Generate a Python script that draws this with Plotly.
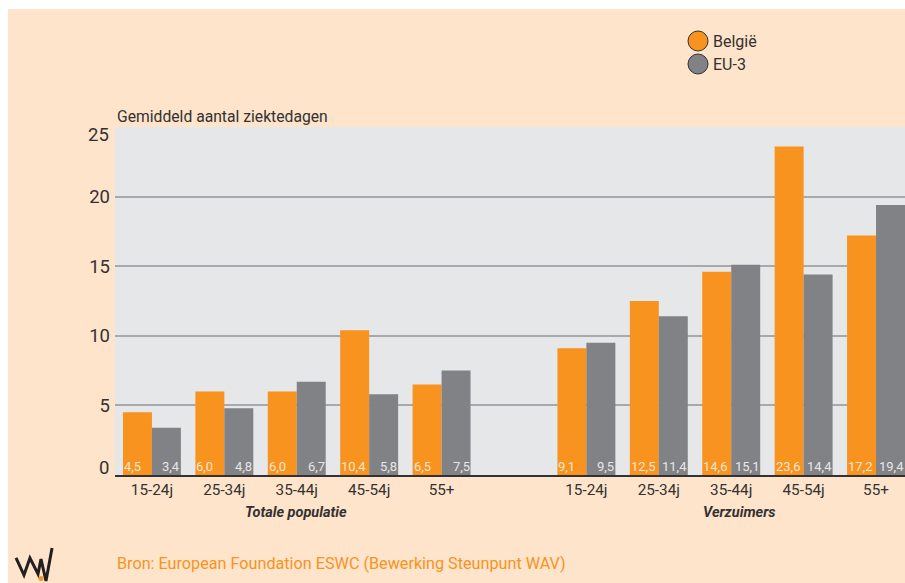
import plotly.graph_objects as go

ages = ["15-24j", "25-34j", "35-44j", "45-54j", "55+"]
belgie_totaal = [4.5, 6.0, 6.0, 10.4, 6.5]
eu3_totaal = [3.4, 4.8, 6.7, 5.8, 7.5]
belgie_verzuim = [9.1, 12.5, 14.6, 23.6, 17.2]
eu3_verzuim = [9.5, 11.4, 15.1, 14.4, 19.4]
y_ticks = [5, 10, 15, 20]
y_end_ticks = [0, 25]
legend_names = ["België", "EU-3"]

ORANGE = "#f7931e"
GREY = "#808285"
PEACH = "#fee4ca"
PLOT = "#e6e7e8"
INK = "#333132"
FONT = "Roboto, Liberation Sans, sans-serif"

W, H = 905, 583
def px(x): return x / W
def py(y): return 1 - y / H

positions = [0, 1, 2, 3, 4, 6, 7, 8, 9, 10]
labels = ages + ages
belgie = belgie_totaal + belgie_verzuim
eu3 = eu3_totaal + eu3_verzuim

fig = go.Figure()
fig.add_bar(x=positions, y=belgie, name="België", marker=dict(color=ORANGE, line_width=0), showlegend=False)
fig.add_bar(x=positions, y=eu3, name="EU-3", marker=dict(color=GREY, line_width=0), showlegend=False)

annotations = []
for p, v, g in zip(positions, belgie, eu3):
    annotations.append(dict(x=p - 0.4, y=0, xref="x", yref="y", xanchor="left", yanchor="bottom",
                            text=f"{v:.1f}".replace(".", ","), showarrow=False, borderpad=0,
                            font=dict(family=FONT, size=13, color="#fbe6d0")))
    annotations.append(dict(x=p + 0.4, y=0, xref="x", yref="y", xanchor="right", yanchor="bottom",
                            text=f"{g:.1f}".replace(".", ","), showarrow=False, borderpad=0,
                            font=dict(family=FONT, size=13, color="#e6e7e8")))

# The end ticks sit just inside the axis span in the reference (positive yshift = up).
for tick, shift in zip(y_end_ticks, [7, -8]):
    annotations.append(dict(x=px(111), xref="paper", y=tick, yref="y", xanchor="right", yanchor="middle",
                            yshift=shift, text=str(tick), showarrow=False,
                            font=dict(family=FONT, size=18.5, color=INK)))

def note(x, y, text, size, color=INK, anchor="left"):
    return dict(x=px(x), y=py(y), xref="paper", yref="paper", xanchor=anchor, yanchor="middle",
                text=text, showarrow=False, font=dict(family=FONT, size=size, color=color))

annotations += [
    note(115, 116, "Gemiddeld aantal ziektedagen", 15.7),
    note(296, 512, "<b><i>Totale populatie</i></b>", 14.5, anchor="center"),
    note(739, 512, "<b><i>Verzuimers</i></b>", 14.5, anchor="center"),
    note(115, 563, "Bron: European Foundation ESWC (Bewerking Steunpunt WAV)", 16.2, ORANGE),
    note(711, 41, legend_names[0], 16),
    note(711, 64, legend_names[1], 16),
]

logo = [(16, 558), (24, 575), (30, 558), (38, 574), (41, 559), (46, 581), (52, 548)]
logo_path = "M" + " L".join(f"{px(x):.4f},{py(y):.4f}" for x, y in logo)
shapes = [
    dict(type="rect", xref="paper", yref="paper", x0=0, x1=px(8), y0=0, y1=1,
         fillcolor="white", line_width=0),
    dict(type="rect", xref="paper", yref="paper", x0=0, x1=1, y0=py(9), y1=1,
         fillcolor="white", line_width=0),
    dict(type="path", xref="paper", yref="paper", path=logo_path,
         line=dict(color="#231f20", width=3)),
    dict(type="circle", xref="paper", yref="paper", x0=px(38.5), x1=px(43.5), y0=py(581), y1=py(576),
         fillcolor=ORANGE, line_width=0),
]
for cy, col in zip([41, 64], [ORANGE, GREY]):
    shapes.append(dict(type="circle", xref="paper", yref="paper", x0=px(688), x1=px(708),
                       y0=py(cy + 10), y1=py(cy - 10), fillcolor=col,
                       line=dict(color=INK, width=1)))

fig.update_layout(
    width=W, height=H, margin=dict(l=0, r=0, t=0, b=0),
    paper_bgcolor=PEACH, plot_bgcolor=PLOT,
    barmode="group", bargap=0.2, bargroupgap=0,
    font=dict(family=FONT, color=INK),
    annotations=annotations, shapes=shapes, showlegend=False,
    xaxis=dict(domain=[px(115), 1], range=[-0.51, 10.4], tickvals=positions, ticktext=labels,
               showgrid=False, zeroline=False, showline=True, linecolor=INK, linewidth=2,
               automargin=False, ticks="", tickfont=dict(family=FONT, size=15.3, color=INK)),
    yaxis=dict(domain=[py(475), py(127)], range=[0, 25], tickvals=y_ticks + y_end_ticks,
               ticktext=[str(t) for t in y_ticks] + ["", ""],
               showgrid=True, gridcolor="#a7a9ac", gridwidth=2, zeroline=False, showline=False,
               automargin=False, ticks="", ticklabelstandoff=4,
               tickfont=dict(family=FONT, size=18.5, color=INK)),
)
fig.write_html("out.html", config=dict(displayModeBar=False),
               post_script="document.body.style.margin='0';document.documentElement.style.overflow='hidden';")
